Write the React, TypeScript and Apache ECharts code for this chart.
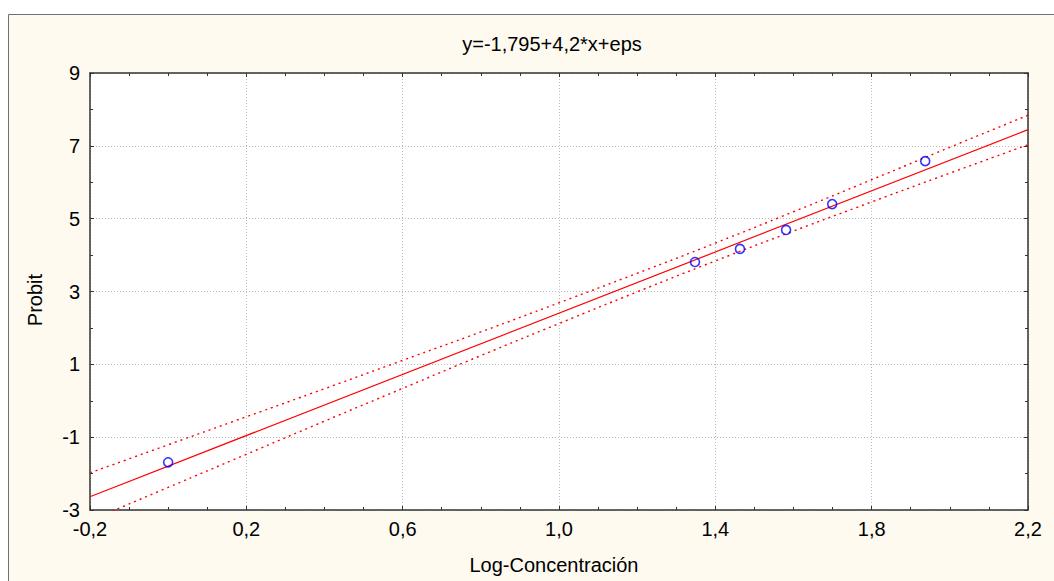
import React, { useEffect, useRef } from "react";
import * as echarts from "echarts";

const pointsX = [0.0, 1.348, 1.463, 1.581, 1.699, 1.937];
const pointsY = [-1.69, 3.81, 4.17, 4.69, 5.4, 6.58];

const fitX = [-0.2, 2.2];
const fitY = [-2.635, 7.445];

const bandX = [-0.2, 0.0, 0.2, 0.4, 0.6, 0.8, 1.0, 1.2, 1.4, 1.6, 1.8, 2.0, 2.2];
const bandUpper = [-1.98, -1.21, -0.44, 0.33, 1.11, 1.89, 2.69, 3.5, 4.33, 5.19, 6.07, 6.96, 7.84];
const bandLower = [-3.29, -2.38, -1.47, -0.56, 0.34, 1.24, 2.12, 2.99, 3.84, 4.66, 5.46, 6.25, 7.03];

const titleText = "y=-1,795+4,2*x+eps";
const xTitle = "Log-Concentración";
const yTitle = "Probit";

const fmt = (v: number) => v.toFixed(1).replace(".", ",");
const fmtY = (v: number) => String(Math.round(v));

export default function App() {
  const ref = useRef<HTMLDivElement>(null);
  useEffect(() => {
    if (!ref.current) return;
    const chart = echarts.init(ref.current, undefined, { renderer: "svg" });
    const font = "'Liberation Sans', Arial, sans-serif";
    const axisColor = "#333333";
    const gridLine = { show: true, lineStyle: { color: "#b8b8b8", type: [1, 2] as any, width: 1 } };
    const zip = (xs: number[], ys: number[]) => xs.map((x, i) => [x, ys[i]]);
    chart.setOption({
      animation: false,
      backgroundColor: "#ffffff",
      textStyle: { fontFamily: font },
      graphic: [
        {
          type: "rect",
          z: -10,
          shape: { x: 8.5, y: 14.5, width: 1100, height: 600 },
          style: { fill: "#fefaf0", stroke: "#707070", lineWidth: 1 },
          silent: true,
        },
        {
          type: "text",
          x: 552,
          y: 44,
          style: {
            text: titleText,
            fontSize: 20,
            fontFamily: font,
            fill: "#000",
            align: "center",
            verticalAlign: "middle",
          },
        },
        {
          type: "text",
          x: 554,
          y: 565,
          style: {
            text: xTitle,
            fontSize: 20,
            fontFamily: font,
            fill: "#000",
            align: "center",
            verticalAlign: "middle",
          },
        },
        {
          type: "text",
          x: 35,
          y: 300,
          rotation: Math.PI / 2,
          style: {
            text: yTitle,
            fontSize: 20,
            fontFamily: font,
            fill: "#000",
            align: "center",
            verticalAlign: "middle",
          },
        },
      ],
      grid: {
        left: 90,
        top: 73,
        right: 26,
        bottom: 71,
        show: true,
        backgroundColor: "#ffffff",
        borderWidth: 0,
      },
      xAxis: [
        {
          type: "value",
          min: -0.2,
          max: 2.2,
          interval: 0.4,
          axisLine: { show: true, onZero: false, lineStyle: { color: axisColor, width: 1.5 } },
          axisTick: { show: true, inside: true, length: 4, lineStyle: { color: axisColor } },
          minorTick: { show: true, splitNumber: 4, length: 3, lineStyle: { color: axisColor } },
          axisLabel: { formatter: fmt, fontSize: 20, color: "#000", margin: 9, fontFamily: font },
          splitLine: gridLine,
        },
        {
          type: "value",
          position: "top",
          min: -0.2,
          max: 2.2,
          interval: 0.4,
          axisLine: { show: true, onZero: false, lineStyle: { color: axisColor, width: 1.5 } },
          axisTick: { show: true, inside: true, length: 4, lineStyle: { color: axisColor } },
          minorTick: { show: true, splitNumber: 4, length: 3, lineStyle: { color: axisColor } },
          axisLabel: { show: false },
          splitLine: { show: false },
        },
      ],
      yAxis: [
        {
          type: "value",
          min: -3,
          max: 9,
          interval: 2,
          axisLine: { show: true, onZero: false, lineStyle: { color: axisColor, width: 1.5 } },
          axisTick: { show: true, inside: true, length: 4, lineStyle: { color: axisColor } },
          minorTick: { show: true, splitNumber: 2, length: 3, lineStyle: { color: axisColor } },
          axisLabel: { formatter: fmtY, fontSize: 20, color: "#000", margin: 10, fontFamily: font },
          splitLine: gridLine,
        },
        {
          type: "value",
          position: "right",
          min: -3,
          max: 9,
          interval: 2,
          axisLine: { show: true, onZero: false, lineStyle: { color: axisColor, width: 1.5 } },
          axisTick: { show: true, inside: true, length: 4, lineStyle: { color: axisColor } },
          minorTick: { show: true, splitNumber: 2, length: 3, lineStyle: { color: axisColor } },
          axisLabel: { show: false },
          splitLine: { show: false },
        },
      ],
      series: [
        {
          type: "line",
          data: zip(bandX, bandUpper),
          smooth: true,
          symbol: "none",
          clip: true,
          lineStyle: { color: "#ff0000", width: 1.4, type: [2, 4] },
        },
        {
          type: "line",
          data: zip(bandX, bandLower),
          smooth: true,
          symbol: "none",
          clip: true,
          lineStyle: { color: "#ff0000", width: 1.4, type: [2, 4] },
        },
        {
          type: "line",
          data: zip(fitX, fitY),
          symbol: "none",
          clip: true,
          lineStyle: { color: "#ff0000", width: 1.2 },
        },
        {
          type: "scatter",
          data: zip(pointsX, pointsY),
          symbol: "circle",
          symbolSize: 9,
          itemStyle: { color: "rgba(0,0,0,0)", borderColor: "#0000ff", borderWidth: 1.6 },
          z: 5,
        },
      ],
    });
    return () => chart.dispose();
  }, []);
  return (
    <div
      ref={ref}
      style={{ position: "fixed", left: 0, top: 0, width: 1054, height: 581 }}
    />
  );
}
